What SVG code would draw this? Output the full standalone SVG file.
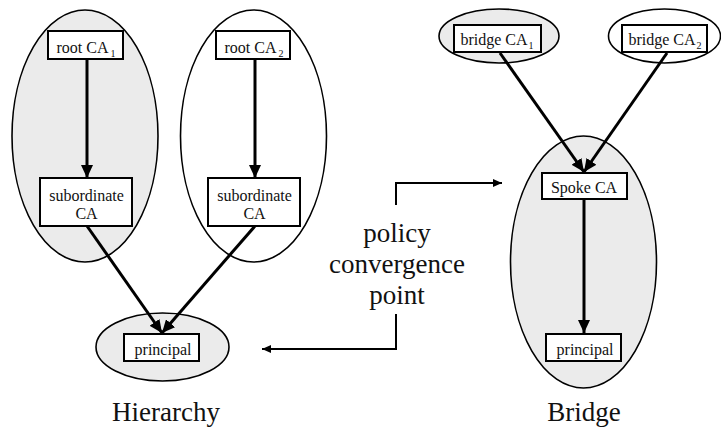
<svg xmlns="http://www.w3.org/2000/svg" width="721" height="429" viewBox="0 0 721 429">
  <style>
    text { font-family: 'Liberation Serif', 'DejaVu Serif', serif; }
    .dom { stroke: #000; stroke-width: 1.6; }
    .grey { fill: #ebebeb; }
    .white { fill: #fff; }
    .box { fill: #fff; stroke: #000; stroke-width: 2; }
    .lbl { font-size: 16px; fill: #111; text-anchor: middle; }
    .sub { font-size: 10px; }
    .big { font-size: 27px; fill: #111; text-anchor: middle; }
    .edge { fill: none; stroke: #000; stroke-width: 3; }
    .bracket { fill: none; stroke: #000; stroke-width: 2; }
  </style>
  <defs>
    <marker id="head" markerUnits="userSpaceOnUse" markerWidth="13" markerHeight="12" refX="13" refY="6" orient="auto">
      <path d="M0,0 L13,6 L0,12 Z" fill="#000"/>
    </marker>
    <marker id="small" markerUnits="userSpaceOnUse" markerWidth="9" markerHeight="8" refX="9" refY="4" orient="auto">
      <path d="M0,0 L9,4 L0,8 Z" fill="#000"/>
    </marker>
  </defs>

  <!-- Hierarchy: two trust domains converging on one principal -->
  <g id="domain-1"><ellipse class="dom grey" cx="85" cy="136" rx="73" ry="126"/></g>
  <g id="domain-2"><ellipse class="dom white" cx="253.5" cy="136" rx="73" ry="126"/></g>
  <g id="principal-domain-h"><ellipse class="dom grey" cx="162.5" cy="347" rx="66.5" ry="34"/></g>

  <g id="root-ca-1">
    <rect class="box" x="48" y="31" width="75" height="28"/>
    <text class="lbl" x="86" y="53">root CA<tspan class="sub" dx="2" dy="4">1</tspan></text>
  </g>
  <g id="root-ca-2">
    <rect class="box" x="216" y="31" width="74" height="28"/>
    <text class="lbl" x="254" y="53">root CA<tspan class="sub" dx="2" dy="4">2</tspan></text>
  </g>
  <g id="sub-ca-1">
    <rect class="box" x="40" y="178" width="92" height="48"/>
    <text class="lbl" x="86.5" y="201">subordinate</text>
    <text class="lbl" x="86.5" y="219">CA</text>
  </g>
  <g id="sub-ca-2">
    <rect class="box" x="208" y="178" width="92" height="48"/>
    <text class="lbl" x="254.5" y="201">subordinate</text>
    <text class="lbl" x="254.5" y="219">CA</text>
  </g>
  <g id="principal-h">
    <rect class="box" x="124" y="334" width="75" height="27"/>
    <text class="lbl" x="163" y="355">principal</text>
  </g>

  <!-- Bridge: two bridge CAs certifying a shared spoke -->
  <g id="bridge-domain-1"><ellipse class="dom grey" cx="499" cy="36" rx="60" ry="27"/></g>
  <g id="bridge-domain-2"><ellipse class="dom white" cx="664.5" cy="36" rx="56" ry="27"/></g>
  <g id="spoke-domain"><ellipse class="dom grey" cx="583.5" cy="262" rx="73" ry="126"/></g>

  <g id="bridge-ca-1">
    <rect class="box" x="454" y="25" width="87" height="27"/>
    <text class="lbl" x="497" y="45">bridge CA<tspan class="sub" dx="1" dy="4">1</tspan></text>
  </g>
  <g id="bridge-ca-2">
    <rect class="box" x="622" y="25" width="85" height="27"/>
    <text class="lbl" x="665" y="45">bridge CA<tspan class="sub" dx="1" dy="4">2</tspan></text>
  </g>
  <g id="spoke-ca">
    <rect class="box" x="542" y="173" width="85" height="26"/>
    <text class="lbl" x="584" y="193">Spoke CA</text>
  </g>
  <g id="principal-b">
    <rect class="box" x="546" y="334" width="75" height="27"/>
    <text class="lbl" x="585" y="355">principal</text>
  </g>

  <!-- Captions -->
  <g id="caption-hierarchy"><text class="big" x="166" y="421">Hierarchy</text></g>
  <g id="caption-bridge"><text class="big" x="584" y="421">Bridge</text></g>
  <g id="convergence-note">
    <text class="big" x="397" y="242">policy</text>
    <text class="big" x="397" y="273">convergence</text>
    <text class="big" x="397" y="304">point</text>
  </g>

  <!-- Connectors -->
  <g id="connectors">
    <line class="edge" x1="87" y1="59" x2="87" y2="178" marker-end="url(#head)"/>
    <line class="edge" x1="255" y1="59" x2="255" y2="178" marker-end="url(#head)"/>
    <line class="edge" x1="87" y1="226" x2="162" y2="333" marker-end="url(#head)"/>
    <line class="edge" x1="255" y1="226" x2="162" y2="333" marker-end="url(#head)"/>
    <line class="edge" x1="500" y1="53" x2="584" y2="172" marker-end="url(#head)"/>
    <line class="edge" x1="667" y1="53" x2="584" y2="172" marker-end="url(#head)"/>
    <line class="edge" x1="584" y1="199" x2="584" y2="333" marker-end="url(#head)"/>
    <path class="bracket" d="M396,205 V183 H502" marker-end="url(#small)"/>
    <path class="bracket" d="M396,314 V349 H262" marker-end="url(#small)"/>
  </g>
</svg>
